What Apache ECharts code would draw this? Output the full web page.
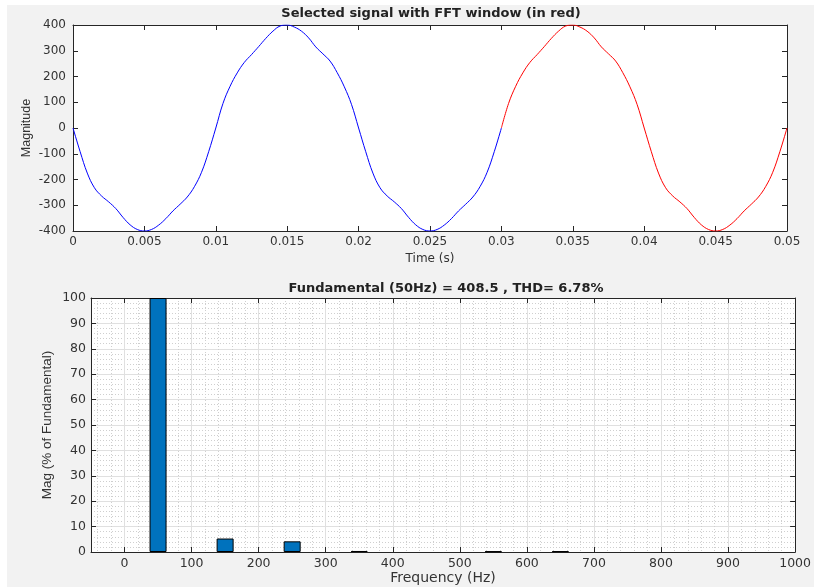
<!DOCTYPE html>
<html>
<head>
<meta charset="utf-8">
<title>FFT analysis</title>
<script src="https://cdn.jsdelivr.net/npm/echarts@6/dist/echarts.min.js"></script>
<style>
    html, body { margin: 0; padding: 0; background: #fff; }
    #chart { width: 814px; height: 587px; }
</style>
</head>
<body>
<div id="chart"></div>
<script>
// sampled signal, one value every 0.5 ms from 0 to 0.05 s
const sampleStep = 0.0005
const windowStartIndex = 60 // 0.03 s, FFT window drawn in red
const signal = [
    0, -92, -175, -232, -264, -287, -313, -347, -376, -394, -400, -394, -377, -352, -322, -296, -268, -228, -172, -92,
    0, 95, 162, 214, 255, 285, 316, 348, 376, 396, 400, 392, 376, 350, 315, 288, 260, 215, 160, 92,
    0, -92, -175, -232, -264, -287, -313, -347, -376, -394, -400, -394, -377, -352, -322, -296, -268, -228, -172, -92,
    0, 95, 162, 214, 255, 285, 316, 348, 376, 396, 400, 392, 376, 350, 315, 288, 260, 215, 160, 92,
    0, -92, -175, -232, -264, -287, -313, -347, -376, -394, -400, -394, -377, -352, -322, -296, -268, -228, -172, -92,
    0
]

// spectrum
const harmonicFreqs = [50, 150, 250, 350, 550, 650]
const harmonicMags = [100, 5.3, 4.2, 0.4, 0.25, 0.3]
const freqTicks = [0, 100, 200, 300, 400, 500, 600, 700, 800, 900, 1000]

const topTitle = 'Selected signal with FFT window (in red)'
const bottomTitle = 'Fundamental (50Hz) = 408.5 , THD= 6.78%'

const wide = '"DejaVu Sans", Verdana, sans-serif'
const regular = '"Liberation Sans", Arial, sans-serif'
const ink = '#262626'
const textColor = '#333'

const points = signal.map((v, i) => [+(i * sampleStep).toFixed(4), v])
const bluePart = points.slice(0, windowStartIndex + 1)
const redPart = points.slice(windowStartIndex)
const bars = harmonicFreqs.map((f, i) => [f, harmonicMags[i]])

// minor grid positions between the 100 Hz lines
const minorFreqs = []
for (let f = -40; f < 1000; f += 20) {
    if (f % 100 !== 0) minorFreqs.push(f)
}

const edge = (extra) => Object.assign({
    axisLine: { show: true, onZero: false, lineStyle: { color: ink, width: 1 } },
    axisTick: { show: true, inside: true, length: 5, lineStyle: { color: ink } },
    splitLine: { show: false },
    nameMoveOverlap: false
}, extra)

const mirror = (extra) => Object.assign({
    axisLine: { show: true, onZero: false, lineStyle: { color: ink, width: 1 } },
    axisTick: { show: true, inside: true, length: 5, lineStyle: { color: ink } },
    axisLabel: { show: false },
    splitLine: { show: false }
}, extra)

const chart = echarts.init(document.getElementById('chart'), null, { renderer: 'canvas' })

chart.setOption({
    animation: false,
    backgroundColor: '#f2f2f2',
    graphic: [
        { type: 'rect', shape: { x: 0, y: 0, width: 814, height: 5 }, style: { fill: '#fff' }, silent: true },
        { type: 'rect', shape: { x: 0, y: 0, width: 7, height: 587 }, style: { fill: '#fff' }, silent: true }
    ],
    title: [
        {
            text: topTitle, left: 431, top: 7, textAlign: 'center', padding: 0,
            textStyle: { fontFamily: wide, fontSize: 13, fontWeight: 'bold', color: '#222' }
        },
        {
            text: bottomTitle, left: 446, top: 282, textAlign: 'center', padding: 0,
            textStyle: { fontFamily: wide, fontSize: 13, fontWeight: 'bold', color: '#222' }
        }
    ],
    grid: [
        { left: 73, top: 25, width: 714, height: 206, show: true, backgroundColor: '#fff', borderWidth: 0 },
        { left: 91, top: 298, width: 710, height: 254, show: true, backgroundColor: '#fff', borderWidth: 0 }
    ],
    xAxis: [
        edge({
            type: 'value', gridIndex: 0, min: 0, max: 0.05, interval: 0.005,
            name: 'Time (s)', nameLocation: 'middle', nameGap: 22,
            nameTextStyle: { color: textColor, fontFamily: wide, fontSize: 12 },
            axisLabel: {
                color: textColor, fontFamily: wide, fontSize: 12, margin: 5,
                formatter: v => String(+v.toFixed(3))
            }
        }),
        mirror({ type: 'value', gridIndex: 0, position: 'top', min: 0, max: 0.05, interval: 0.005 }),
        edge({
            type: 'value', gridIndex: 1, min: -50, max: 1000,
            name: 'Frequency (Hz)', nameLocation: 'middle', nameGap: 19,
            nameTextStyle: { color: textColor, fontFamily: wide, fontSize: 14 },
            axisTick: { show: true, inside: true, length: 5, customValues: freqTicks, lineStyle: { color: ink } },
            axisLabel: {
                color: textColor, fontFamily: wide, fontSize: 12.5, margin: 5,
                customValues: freqTicks, formatter: v => String(v)
            },
            splitLine: { show: true, lineStyle: { color: '#e0e0e0', width: 1 } }
        }),
        mirror({
            type: 'value', gridIndex: 1, position: 'top', min: -50, max: 1000,
            axisTick: { show: true, inside: true, length: 5, customValues: freqTicks, lineStyle: { color: ink } }
        }),
        {
            type: 'value', gridIndex: 1, position: 'bottom', min: -50, max: 1000,
            axisLine: { show: false }, axisLabel: { show: false },
            axisTick: { show: false, customValues: minorFreqs },
            splitLine: { show: true, lineStyle: { color: '#cfcfcf', type: [1, 2], width: 1 } }
        }
    ],
    yAxis: [
        edge({
            type: 'value', gridIndex: 0, min: -400, max: 400, interval: 100,
            name: 'Magnitude', nameLocation: 'middle', nameGap: 40,
            nameTextStyle: { color: textColor, fontFamily: regular, fontSize: 12.5 },
            axisLabel: { color: textColor, fontFamily: wide, fontSize: 12, margin: 7 }
        }),
        mirror({ type: 'value', gridIndex: 0, position: 'right', min: -400, max: 400, interval: 100 }),
        edge({
            type: 'value', gridIndex: 1, min: 0, max: 100, interval: 10,
            name: 'Mag (% of Fundamental)', nameLocation: 'middle', nameGap: 37,
            nameTextStyle: { color: textColor, fontFamily: regular, fontSize: 13.5 },
            axisLabel: { color: textColor, fontFamily: wide, fontSize: 12.5, margin: 5 },
            splitLine: { show: true, lineStyle: { color: '#e0e0e0', width: 1 } },
            minorTick: { show: false, splitNumber: 5 },
            minorSplitLine: { show: true, lineStyle: { color: '#cfcfcf', type: [1, 2], width: 1 } }
        }),
        mirror({ type: 'value', gridIndex: 1, position: 'right', min: 0, max: 100, interval: 10 })
    ],
    series: [
        {
            type: 'line', xAxisIndex: 0, yAxisIndex: 0, data: bluePart,
            showSymbol: false, smooth: 0.4, lineStyle: { color: '#0000ff', width: 1 }, z: 3
        },
        {
            type: 'line', xAxisIndex: 0, yAxisIndex: 0, data: redPart,
            showSymbol: false, smooth: 0.4, lineStyle: { color: '#ff0000', width: 1 }, z: 3
        },
        {
            type: 'bar', xAxisIndex: 2, yAxisIndex: 2, data: bars, barWidth: 17,
            itemStyle: { color: '#0072bd', borderColor: '#000', borderWidth: 1 }, z: 3
        }
    ]
})
</script>
</body>
</html>
